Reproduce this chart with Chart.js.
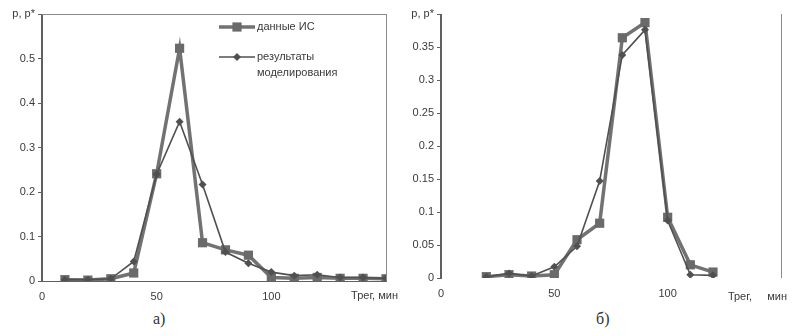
<!DOCTYPE html>
<html>
<head>
<meta charset="utf-8">
<script src="https://cdn.jsdelivr.net/npm/chart.js@4/dist/chart.umd.min.js"></script>
<style>
  body { margin: 0; background: #fff; width: 792px; height: 336px; overflow: hidden; position: relative; }
  .box { position: absolute; top: 0; height: 305px; }
  .cap { position: absolute; top: 310px; font: 16px "Liberation Serif", "DejaVu Serif", serif; color: #333; }
</style>
</head>
<body>
<div class="box" style="left:0;width:400px"><canvas id="chartA" width="400" height="305"></canvas></div>
<div class="box" style="left:400px;width:392px"><canvas id="chartB" width="392" height="305"></canvas></div>
<div class="cap" style="left:153px">а)</div>
<div class="cap" style="left:596px">б)</div>
<script>
// data
const seriesNames = ['данные ИС', ['результаты', 'моделирования']];
const yAxisLabel = 'p, p*';

const minutesA = [10, 20, 30, 40, 50, 60, 70, 80, 90, 100, 110, 120, 130, 140, 150];
const isDataA = [0.003, 0.002, 0.005, 0.018, 0.241, 0.523, 0.086, 0.070, 0.058, 0.008, 0.006, 0.008, 0.006, 0.006, 0.005];
const modelDataA = [0.003, 0.003, 0.005, 0.044, 0.240, 0.358, 0.217, 0.065, 0.040, 0.020, 0.012, 0.014, 0.008, 0.008, 0.006];

const minutesB = [20, 30, 40, 50, 60, 70, 80, 90, 100, 110, 120];
const isDataB = [0.002, 0.005, 0.003, 0.005, 0.058, 0.083, 0.364, 0.387, 0.092, 0.020, 0.009];
const modelDataB = [0.002, 0.007, 0.003, 0.017, 0.048, 0.147, 0.338, 0.376, 0.087, 0.005, 0.004];

const FONT = "'Liberation Sans', Arial, sans-serif";
const TEXT = '#3a3a3a';
const AXIS = '#606060';

function pts(xs, ys) {
    return xs.map((x, i) => ({ x: x, y: ys[i] }));
}

// legend, x-axis name and frame lines drawn on the canvas
const extrasPlugin = {
    id: 'extras',
    afterDraw(chart, args, opts) {
        const { ctx, chartArea, scales } = chart;
        ctx.save();

        // frame
        const l = Math.round(chartArea.left);
        const r = Math.round(chartArea.right) + 0.5;
        const t = Math.round(chartArea.top) + 0.5;
        ctx.fillStyle = AXIS;
        ctx.fillRect(l - 1, chartArea.top, 1.5, chartArea.bottom - chartArea.top);
        ctx.strokeStyle = '#8a8a8a';
        ctx.lineWidth = 1;
        ctx.beginPath();
        if (opts.frameTop) {
            ctx.moveTo(l, t);
            ctx.lineTo(r, t);
        }
        ctx.moveTo(r, chartArea.top);
        ctx.lineTo(r, chartArea.bottom);
        ctx.stroke();

        // x axis name
        ctx.font = '11px ' + FONT;
        ctx.fillStyle = TEXT;
        ctx.textAlign = 'right';
        ctx.textBaseline = 'middle';
        const xEnd = scales.x.getPixelForValue(scales.x.max) + opts.nameDx;
        ctx.fillText(opts.xName, xEnd, opts.nameY);

        // legend
        let y = opts.legendY;
        chart.data.datasets.forEach((ds, i) => {
            const x0 = opts.legendX, x1 = x0 + 36, xm = (x0 + x1) / 2;
            ctx.strokeStyle = ds.borderColor;
            ctx.lineWidth = ds.borderWidth;
            ctx.beginPath();
            ctx.moveTo(x0, y);
            ctx.lineTo(x1, y);
            ctx.stroke();
            ctx.fillStyle = ds.pointBackgroundColor;
            ctx.beginPath();
            if (ds.pointStyle === 'rect') {
                const s = ds.pointRadius * Math.SQRT1_2;
                ctx.rect(xm - s, y - s, 2 * s, 2 * s);
            } else {
                const rr = ds.pointRadius;
                ctx.moveTo(xm, y - rr);
                ctx.lineTo(xm + rr, y);
                ctx.lineTo(xm, y + rr);
                ctx.lineTo(xm - rr, y);
                ctx.closePath();
            }
            ctx.fill();
            const lines = Array.isArray(ds.label) ? ds.label : [ds.label];
            ctx.fillStyle = TEXT;
            ctx.textAlign = 'left';
            lines.forEach((txt, k) => ctx.fillText(txt, x1 + 2, y + k * 16));
            y += 30;
        });
        ctx.restore();
    }
};

function makeChart(id, xs, isData, modelData, cfg) {
    return new Chart(document.getElementById(id), {
        type: 'line',
        data: {
            datasets: [
                {
                    label: seriesNames[0],
                    data: pts(xs, isData),
                    borderColor: '#727272',
                    backgroundColor: '#727272',
                    pointBackgroundColor: '#6a6a6a',
                    borderWidth: 3.5,
                    pointStyle: 'rect',
                    pointRadius: 6.5,
                    pointBorderWidth: 0,
                    tension: 0,
                    order: 1
                },
                {
                    label: seriesNames[1],
                    data: pts(xs, modelData),
                    borderColor: '#505050',
                    backgroundColor: '#505050',
                    pointBackgroundColor: '#505050',
                    borderWidth: 1.6,
                    pointStyle: 'rectRot',
                    pointRadius: 4,
                    pointBorderWidth: 0,
                    tension: 0,
                    order: 0
                }
            ]
        },
        plugins: [extrasPlugin],
        options: {
            responsive: false,
            animation: false,
            layout: { padding: { top: cfg.top, right: cfg.right, left: 0, bottom: 0 } },
            plugins: {
                legend: { display: false },
                tooltip: { enabled: false },
                extras: cfg.extras
            },
            scales: {
                x: {
                    type: 'linear',
                    min: 0,
                    max: 150,
                    afterFit: s => { s.height = cfg.xHeight; },
                    grid: { drawOnChartArea: false, drawTicks: false },
                    border: { display: cfg.xBorder, color: AXIS, width: 1 },
                    ticks: {
                        stepSize: 50,
                        padding: 9,
                        color: TEXT,
                        font: { family: FONT, size: 11 },
                        callback: v => (v === 150 ? '' : String(v))
                    }
                },
                y: {
                    min: 0,
                    max: cfg.yMax,
                    afterFit: s => { s.width = cfg.yWidth; },
                    grid: { drawOnChartArea: false, tickLength: 4, color: AXIS },
                    border: { display: true, color: AXIS, width: 1 },
                    ticks: {
                        stepSize: cfg.yStep,
                        padding: 3,
                        color: TEXT,
                        font: { family: FONT, size: 11 },
                        callback: v => (Math.abs(v - cfg.yMax) < 1e-9 ? yAxisLabel : String(Number(v.toFixed(2))))
                    }
                }
            }
        }
    });
}

makeChart('chartA', minutesA, isDataA, modelDataA, {
    top: 14, right: 14, xHeight: 24, yWidth: 42, yMax: 0.6, yStep: 0.1, xBorder: true,
    extras: { frameTop: true, xName: 'Трег, мин', nameDx: 12, nameY: 296, legendX: 219, legendY: 27 }
});

makeChart('chartB', minutesB, isDataB, modelDataB, {
    top: 14, right: 11, xHeight: 27, yWidth: 41, yMax: 0.4, yStep: 0.05, xBorder: false,
    extras: { frameTop: false, xName: 'Трег,     мин', nameDx: 6, nameY: 297, legendX: 461, legendY: 27 }
});
</script>
</body>
</html>
